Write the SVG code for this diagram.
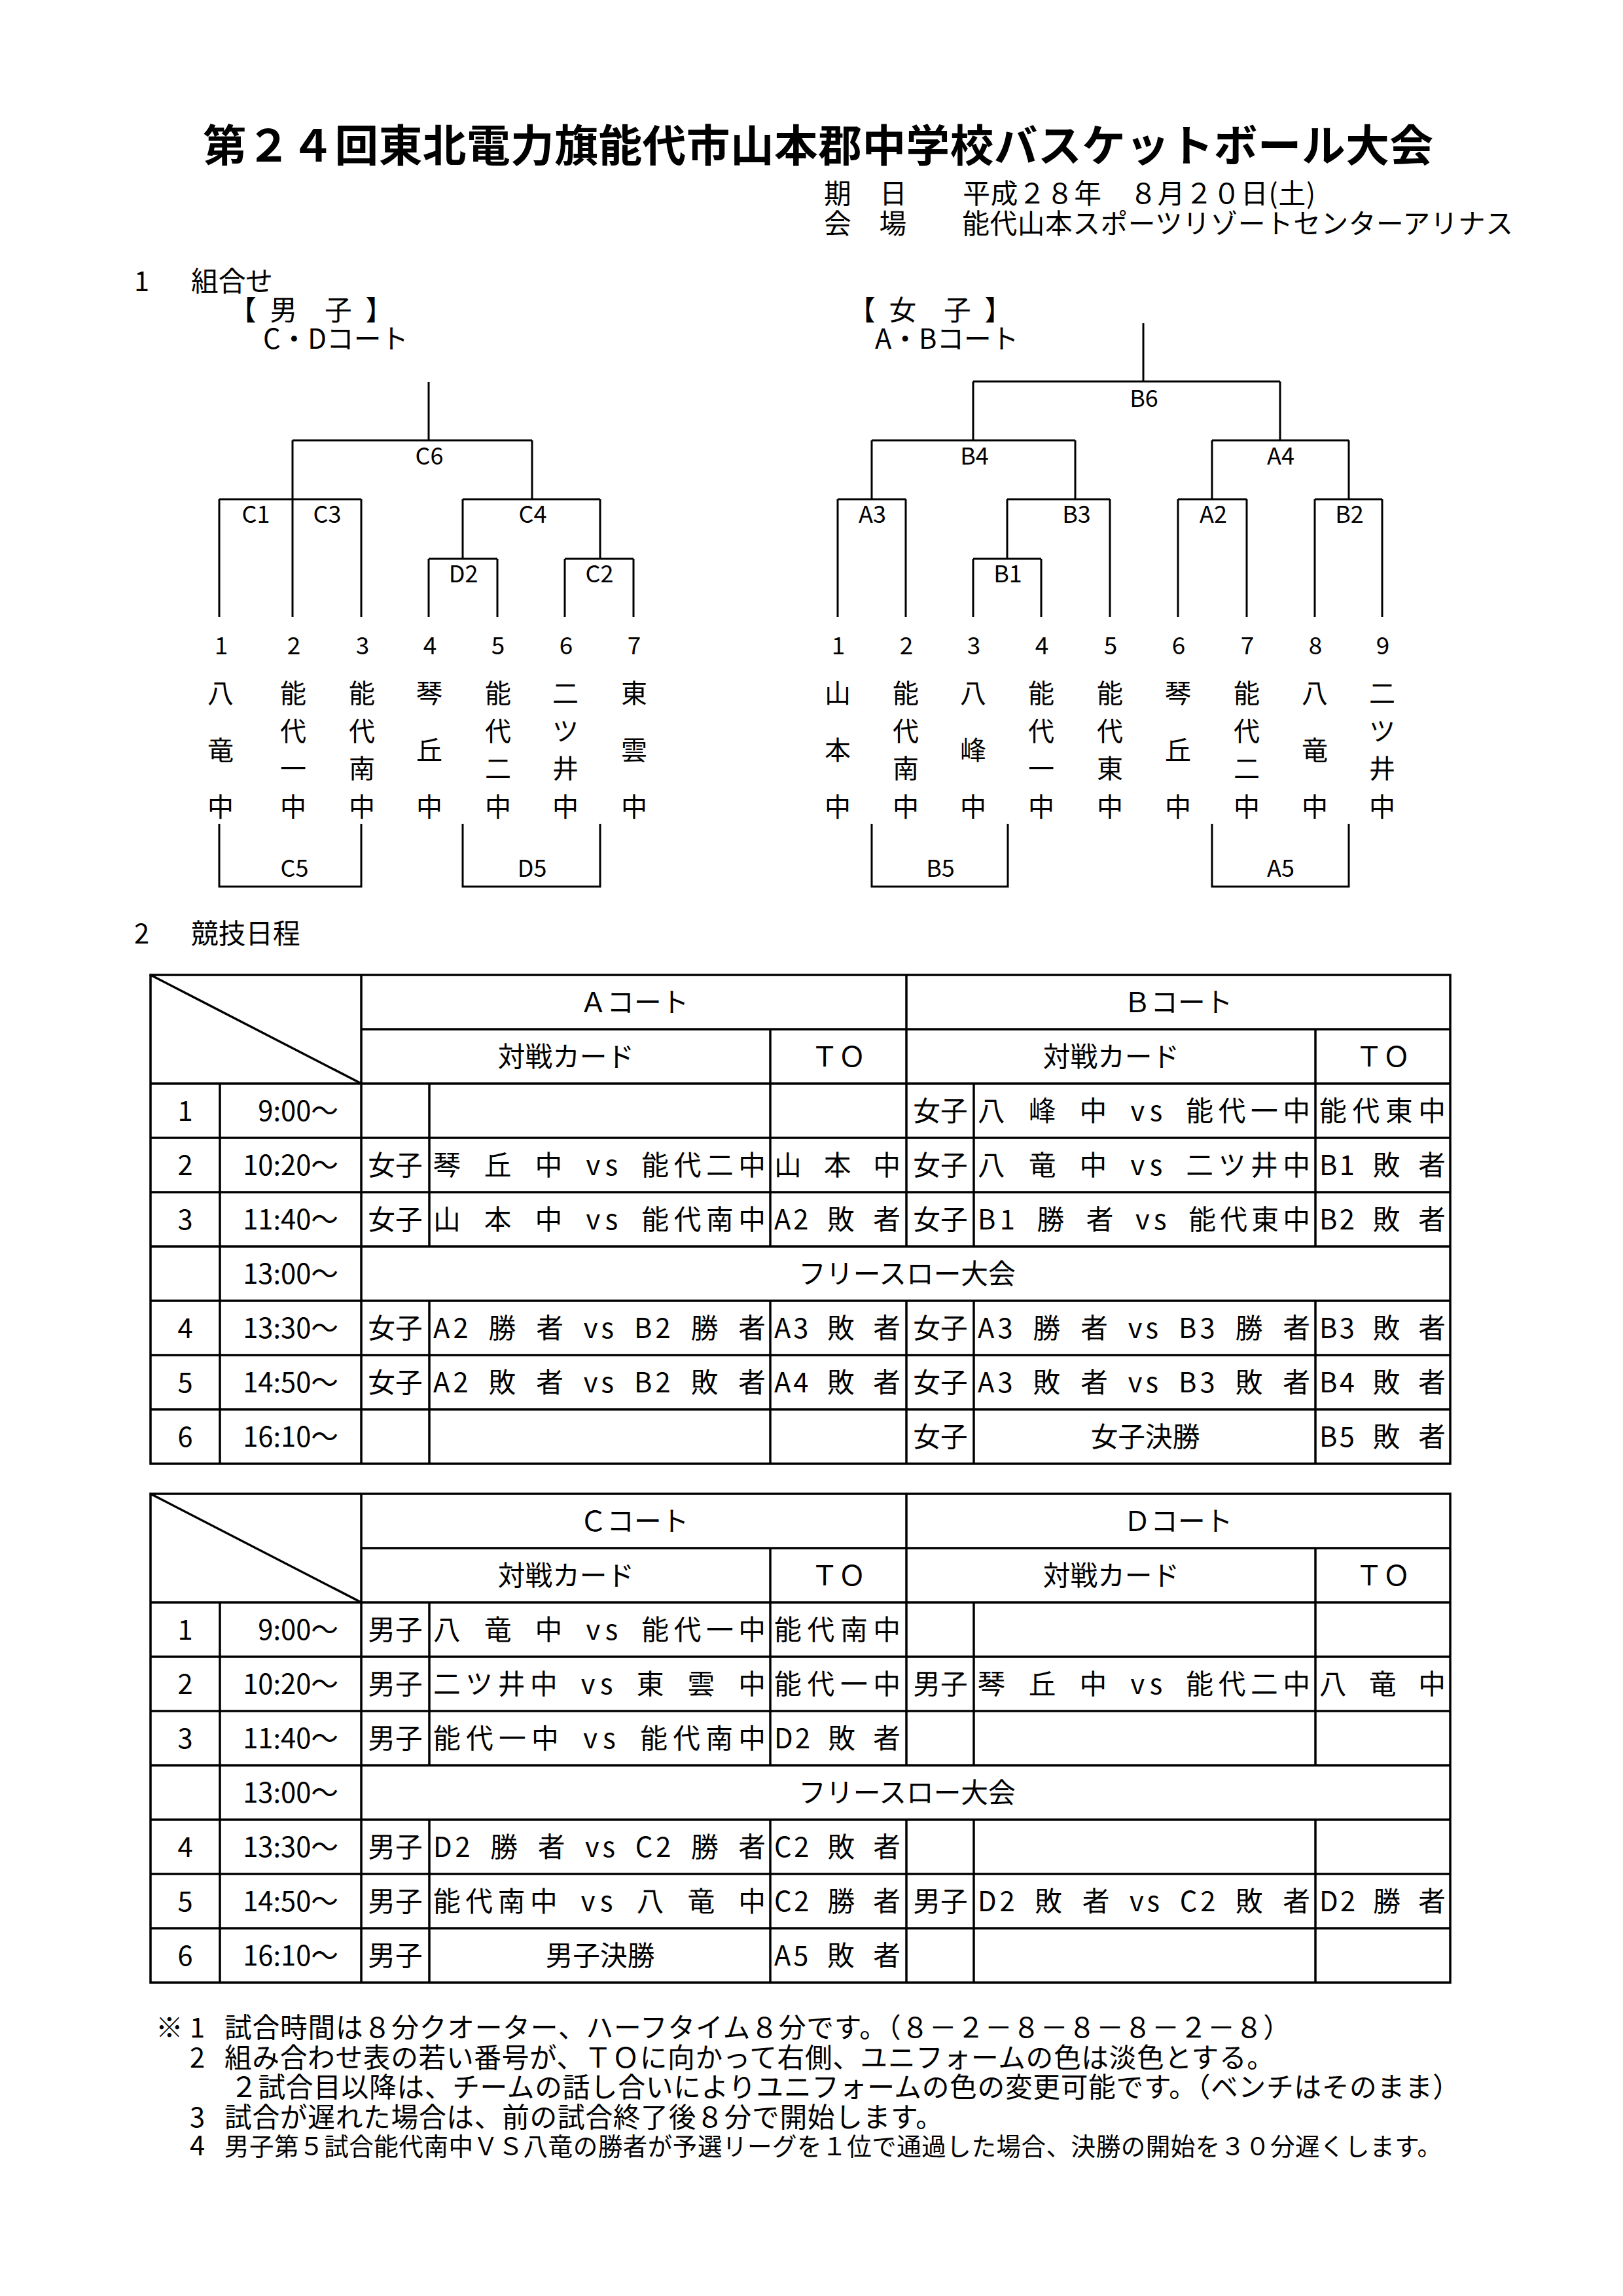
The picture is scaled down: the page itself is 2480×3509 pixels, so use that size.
<svg xmlns="http://www.w3.org/2000/svg" width="2480" height="3509" viewBox="0 0 2480 3509">
<style>
.j{font-family:"Noto Sans CJK JP","Noto Sans",sans-serif;font-size:41.7px;fill:#000}
.nm{font-size:40px}
.c{text-anchor:middle}
.e{text-anchor:end}
.lb{font-size:36px}
.num{font-size:37px}
.tt{font-size:66.7px;font-weight:700}
.n5{font-size:37.5px}
.ln{stroke:#000;stroke-width:3;fill:none}
.tb{stroke:#000;stroke-width:3.5;fill:none;stroke-linecap:square}
</style>
<rect x="0" y="0" width="2480" height="3509" fill="#fff"/>

<g id="title">
<text class="j tt" x="310" y="247" textLength="1880" lengthAdjust="spacing">第２４回東北電力旗能代市山本郡中学校バスケットボール大会</text>
</g>
<g id="meta">
<text class="j" x="1259" y="311" textLength="751" lengthAdjust="spacing">期　日　　平成２８年　８月２０日(土)</text>
<text class="j" x="1259" y="357" textLength="1053" lengthAdjust="spacing">会　場　　能代山本スポーツリゾートセンターアリナス</text>
</g>

<g id="section1">
<text class="j" x="205" y="445">1</text>
<text class="j" x="292" y="445">組合せ</text>
<text class="j" x="350" y="489">【&#x2002;男　子&#x2002;】</text>
<text class="j" x="402" y="533">C・Dコート</text>
<text class="j" x="1296" y="489">【&#x2002;女　子&#x2002;】</text>
<text class="j" x="1337" y="533">A・Bコート</text>
</g>

<g id="connectors">
<path class="ln" d="M655,584V673 M447,673H813 M447,673V943 M813,673V763 M335,763H552 M335,763V943 M552,763V943 M707,763H917 M707,763V854 M917,763V854 M655,854H760 M655,854V943 M760,854V943 M863,854H968 M863,854V943 M968,854V943"/>
<path class="ln" d="M335,1259V1355H552V1259 M707,1259V1355H917V1259"/>
<path class="ln" d="M1747,494V583 M1487,583H1956 M1487,583V673 M1956,583V673 M1332,673H1643 M1332,673V763 M1643,673V763 M1280,763H1384 M1280,763V943 M1384,763V943 M1539,763H1696 M1539,763V854 M1696,763V943 M1487,854H1591 M1487,854V943 M1591,854V943 M1852,673H2061 M1852,673V763 M2061,673V763 M1800,763H1905 M1800,763V943 M1905,763V943 M2009,763H2112 M2009,763V943 M2112,763V943"/>
<path class="ln" d="M1332,1259V1355H1540V1259 M1852,1259V1355H2061V1259"/>
</g>

<g id="boys-matches">
<text class="j lb c" x="656" y="710">C6</text>
<text class="j lb c" x="391" y="799">C1</text>
<text class="j lb c" x="500" y="799">C3</text>
<text class="j lb c" x="814" y="799">C4</text>
<text class="j lb c" x="708" y="890">D2</text>
<text class="j lb c" x="916" y="890">C2</text>
<text class="j lb c" x="450" y="1340">C5</text>
<text class="j lb c" x="813" y="1340">D5</text>
</g>

<g id="boys-teams">
<g id="boy1"><text class="j num c" x="338" y="1000">1</text><text class="j nm c" x="337 337 337" y="1074 1161 1248">八竜中</text></g>
<g id="boy2"><text class="j num c" x="449" y="1000">2</text><text class="j nm c" x="448 448 448 448" y="1074 1132 1189 1248">能代一中</text></g>
<g id="boy3"><text class="j num c" x="554" y="1000">3</text><text class="j nm c" x="553 553 553 553" y="1074 1132 1189 1248">能代南中</text></g>
<g id="boy4"><text class="j num c" x="657" y="1000">4</text><text class="j nm c" x="656 656 656" y="1074 1161 1248">琴丘中</text></g>
<g id="boy5"><text class="j num c" x="761" y="1000">5</text><text class="j nm c" x="761 761 761 761" y="1074 1132 1189 1248">能代二中</text></g>
<g id="boy6"><text class="j num c" x="865" y="1000">6</text><text class="j nm c" x="864 864 864 864" y="1074 1132 1189 1248">二ツ井中</text></g>
<g id="boy7"><text class="j num c" x="969" y="1000">7</text><text class="j nm c" x="969 969 969" y="1074 1161 1248">東雲中</text></g>
</g>

<g id="girls-matches">
<text class="j lb c" x="1748" y="622">B6</text>
<text class="j lb c" x="1489" y="710">B4</text>
<text class="j lb c" x="1957" y="710">A4</text>
<text class="j lb c" x="1333" y="799">A3</text>
<text class="j lb c" x="1645" y="799">B3</text>
<text class="j lb c" x="1854" y="799">A2</text>
<text class="j lb c" x="2062" y="799">B2</text>
<text class="j lb c" x="1540" y="890">B1</text>
<text class="j lb c" x="1437" y="1340">B5</text>
<text class="j lb c" x="1957" y="1340">A5</text>
</g>

<g id="girls-teams">
<g id="girl1"><text class="j num c" x="1281" y="1000">1</text><text class="j nm c" x="1280 1280 1280" y="1074 1161 1248">山本中</text></g>
<g id="girl2"><text class="j num c" x="1385" y="1000">2</text><text class="j nm c" x="1384 1384 1384 1384" y="1074 1132 1189 1248">能代南中</text></g>
<g id="girl3"><text class="j num c" x="1488" y="1000">3</text><text class="j nm c" x="1487 1487 1487" y="1074 1161 1248">八峰中</text></g>
<g id="girl4"><text class="j num c" x="1592" y="1000">4</text><text class="j nm c" x="1591 1591 1591 1591" y="1074 1132 1189 1248">能代一中</text></g>
<g id="girl5"><text class="j num c" x="1697" y="1000">5</text><text class="j nm c" x="1696 1696 1696 1696" y="1074 1132 1189 1248">能代東中</text></g>
<g id="girl6"><text class="j num c" x="1801" y="1000">6</text><text class="j nm c" x="1800 1800 1800" y="1074 1161 1248">琴丘中</text></g>
<g id="girl7"><text class="j num c" x="1906" y="1000">7</text><text class="j nm c" x="1905 1905 1905 1905" y="1074 1132 1189 1248">能代二中</text></g>
<g id="girl8"><text class="j num c" x="2010" y="1000">8</text><text class="j nm c" x="2009 2009 2009" y="1074 1161 1248">八竜中</text></g>
<g id="girl9"><text class="j num c" x="2113" y="1000">9</text><text class="j nm c" x="2112 2112 2112 2112" y="1074 1132 1189 1248">二ツ井中</text></g>
</g>

<g id="section2">
<text class="j" x="205" y="1442">2</text>
<text class="j" x="292" y="1442">競技日程</text>
</g>

<g id="table-ab">
<path class="tb" d="M230,1490H2216V2237H230Z M552,1573H2216 M230,1656H2216 M230,1739H2216 M230,1822H2216 M230,1905H2216 M230,1988H2216 M230,2071H2216 M230,2154H2216 M336,1656V2237 M552,1490V2237 M656,1656V1905 M656,1988V2237 M1177,1573V1905 M1177,1988V2237 M1385,1490V1905 M1385,1988V2237 M1488,1656V1905 M1488,1988V2237 M2010,1573V1905 M2010,1988V2237 M230,1490L552,1656"/>
<text class="j c" x="969" y="1547">Ａコート</text>
<text class="j c" x="1800" y="1547">Ｂコート</text>
<text class="j c" x="865" y="1630">対戦カード</text>
<text class="j c" x="1281" y="1630">ＴＯ</text>
<text class="j c" x="1698" y="1630">対戦カード</text>
<text class="j c" x="2113" y="1630">ＴＯ</text>
<text class="j c" x="283" y="1713">1</text>
<text class="j e" x="517" y="1713">9:00～</text>
<text class="j c" x="1437" y="1713">女子</text>
<text class="j" x="1494" y="1713" textLength="508" lengthAdjust="spacing">八&#x2002;峰&#x2002;中&#x2002;vs&#x2002;能代一中</text>
<text class="j" x="2016" y="1713" textLength="193" lengthAdjust="spacing">能代東中</text>
<text class="j c" x="283" y="1796">2</text>
<text class="j e" x="517" y="1796">10:20～</text>
<text class="j c" x="604" y="1796">女子</text>
<text class="j" x="662" y="1796" textLength="508" lengthAdjust="spacing">琴&#x2002;丘&#x2002;中&#x2002;vs&#x2002;能代二中</text>
<text class="j" x="1183" y="1796" textLength="193" lengthAdjust="spacing">山&#x2002;本&#x2002;中</text>
<text class="j c" x="1437" y="1796">女子</text>
<text class="j" x="1494" y="1796" textLength="508" lengthAdjust="spacing">八&#x2002;竜&#x2002;中&#x2002;vs&#x2002;二ツ井中</text>
<text class="j" x="2016" y="1796" textLength="193" lengthAdjust="spacing">B1&#x2002;敗&#x2002;者</text>
<text class="j c" x="283" y="1879">3</text>
<text class="j e" x="517" y="1879">11:40～</text>
<text class="j c" x="604" y="1879">女子</text>
<text class="j" x="662" y="1879" textLength="508" lengthAdjust="spacing">山&#x2002;本&#x2002;中&#x2002;vs&#x2002;能代南中</text>
<text class="j" x="1183" y="1879" textLength="193" lengthAdjust="spacing">A2&#x2002;敗&#x2002;者</text>
<text class="j c" x="1437" y="1879">女子</text>
<text class="j" x="1494" y="1879" textLength="508" lengthAdjust="spacing">B1&#x2002;勝&#x2002;者&#x2002;vs&#x2002;能代東中</text>
<text class="j" x="2016" y="1879" textLength="193" lengthAdjust="spacing">B2&#x2002;敗&#x2002;者</text>
<text class="j e" x="517" y="1962">13:00～</text>
<text class="j c" x="1386" y="1962">フリースロー大会</text>
<text class="j c" x="283" y="2045">4</text>
<text class="j e" x="517" y="2045">13:30～</text>
<text class="j c" x="604" y="2045">女子</text>
<text class="j" x="662" y="2045" textLength="508" lengthAdjust="spacing">A2&#x2002;勝&#x2002;者&#x2002;vs&#x2002;B2&#x2002;勝&#x2002;者</text>
<text class="j" x="1183" y="2045" textLength="193" lengthAdjust="spacing">A3&#x2002;敗&#x2002;者</text>
<text class="j c" x="1437" y="2045">女子</text>
<text class="j" x="1494" y="2045" textLength="508" lengthAdjust="spacing">A3&#x2002;勝&#x2002;者&#x2002;vs&#x2002;B3&#x2002;勝&#x2002;者</text>
<text class="j" x="2016" y="2045" textLength="193" lengthAdjust="spacing">B3&#x2002;敗&#x2002;者</text>
<text class="j c" x="283" y="2128">5</text>
<text class="j e" x="517" y="2128">14:50～</text>
<text class="j c" x="604" y="2128">女子</text>
<text class="j" x="662" y="2128" textLength="508" lengthAdjust="spacing">A2&#x2002;敗&#x2002;者&#x2002;vs&#x2002;B2&#x2002;敗&#x2002;者</text>
<text class="j" x="1183" y="2128" textLength="193" lengthAdjust="spacing">A4&#x2002;敗&#x2002;者</text>
<text class="j c" x="1437" y="2128">女子</text>
<text class="j" x="1494" y="2128" textLength="508" lengthAdjust="spacing">A3&#x2002;敗&#x2002;者&#x2002;vs&#x2002;B3&#x2002;敗&#x2002;者</text>
<text class="j" x="2016" y="2128" textLength="193" lengthAdjust="spacing">B4&#x2002;敗&#x2002;者</text>
<text class="j c" x="283" y="2211">6</text>
<text class="j e" x="517" y="2211">16:10～</text>
<text class="j c" x="1437" y="2211">女子</text>
<text class="j c" x="1750" y="2211">女子決勝</text>
<text class="j" x="2016" y="2211" textLength="193" lengthAdjust="spacing">B5&#x2002;敗&#x2002;者</text>
</g>

<g id="table-cd" transform="translate(0,793)">
<path class="tb" d="M230,1490H2216V2237H230Z M552,1573H2216 M230,1656H2216 M230,1739H2216 M230,1822H2216 M230,1905H2216 M230,1988H2216 M230,2071H2216 M230,2154H2216 M336,1656V2237 M552,1490V2237 M656,1656V1905 M656,1988V2237 M1177,1573V1905 M1177,1988V2237 M1385,1490V1905 M1385,1988V2237 M1488,1656V1905 M1488,1988V2237 M2010,1573V1905 M2010,1988V2237 M230,1490L552,1656"/>
<text class="j c" x="969" y="1547">Ｃコート</text>
<text class="j c" x="1800" y="1547">Ｄコート</text>
<text class="j c" x="865" y="1630">対戦カード</text>
<text class="j c" x="1281" y="1630">ＴＯ</text>
<text class="j c" x="1698" y="1630">対戦カード</text>
<text class="j c" x="2113" y="1630">ＴＯ</text>
<text class="j c" x="283" y="1713">1</text>
<text class="j e" x="517" y="1713">9:00～</text>
<text class="j c" x="604" y="1713">男子</text>
<text class="j" x="662" y="1713" textLength="508" lengthAdjust="spacing">八&#x2002;竜&#x2002;中&#x2002;vs&#x2002;能代一中</text>
<text class="j" x="1183" y="1713" textLength="193" lengthAdjust="spacing">能代南中</text>
<text class="j c" x="283" y="1796">2</text>
<text class="j e" x="517" y="1796">10:20～</text>
<text class="j c" x="604" y="1796">男子</text>
<text class="j" x="662" y="1796" textLength="508" lengthAdjust="spacing">二ツ井中&#x2002;vs&#x2002;東&#x2002;雲&#x2002;中</text>
<text class="j" x="1183" y="1796" textLength="193" lengthAdjust="spacing">能代一中</text>
<text class="j c" x="1437" y="1796">男子</text>
<text class="j" x="1494" y="1796" textLength="508" lengthAdjust="spacing">琴&#x2002;丘&#x2002;中&#x2002;vs&#x2002;能代二中</text>
<text class="j" x="2016" y="1796" textLength="193" lengthAdjust="spacing">八&#x2002;竜&#x2002;中</text>
<text class="j c" x="283" y="1879">3</text>
<text class="j e" x="517" y="1879">11:40～</text>
<text class="j c" x="604" y="1879">男子</text>
<text class="j" x="662" y="1879" textLength="508" lengthAdjust="spacing">能代一中&#x2002;vs&#x2002;能代南中</text>
<text class="j" x="1183" y="1879" textLength="193" lengthAdjust="spacing">D2&#x2002;敗&#x2002;者</text>
<text class="j e" x="517" y="1962">13:00～</text>
<text class="j c" x="1386" y="1962">フリースロー大会</text>
<text class="j c" x="283" y="2045">4</text>
<text class="j e" x="517" y="2045">13:30～</text>
<text class="j c" x="604" y="2045">男子</text>
<text class="j" x="662" y="2045" textLength="508" lengthAdjust="spacing">D2&#x2002;勝&#x2002;者&#x2002;vs&#x2002;C2&#x2002;勝&#x2002;者</text>
<text class="j" x="1183" y="2045" textLength="193" lengthAdjust="spacing">C2&#x2002;敗&#x2002;者</text>
<text class="j c" x="283" y="2128">5</text>
<text class="j e" x="517" y="2128">14:50～</text>
<text class="j c" x="604" y="2128">男子</text>
<text class="j" x="662" y="2128" textLength="508" lengthAdjust="spacing">能代南中&#x2002;vs&#x2002;八&#x2002;竜&#x2002;中</text>
<text class="j" x="1183" y="2128" textLength="193" lengthAdjust="spacing">C2&#x2002;勝&#x2002;者</text>
<text class="j c" x="1437" y="2128">男子</text>
<text class="j" x="1494" y="2128" textLength="508" lengthAdjust="spacing">D2&#x2002;敗&#x2002;者&#x2002;vs&#x2002;C2&#x2002;敗&#x2002;者</text>
<text class="j" x="2016" y="2128" textLength="193" lengthAdjust="spacing">D2&#x2002;勝&#x2002;者</text>
<text class="j c" x="283" y="2211">6</text>
<text class="j e" x="517" y="2211">16:10～</text>
<text class="j c" x="604" y="2211">男子</text>
<text class="j c" x="917" y="2211">男子決勝</text>
<text class="j" x="1183" y="2211" textLength="193" lengthAdjust="spacing">A5&#x2002;敗&#x2002;者</text>
</g>

<g id="notes">
<text class="j" x="238" y="3114">※</text>
<text class="j" x="290" y="3114">1</text>
<text class="j" x="343" y="3114" textLength="1629" lengthAdjust="spacing">試合時間は８分クオーター、ハーフタイム８分です。（８－２－８－８－８－２－８）</text>
<text class="j" x="290" y="3160">2</text>
<text class="j" x="343" y="3160" textLength="1604" lengthAdjust="spacing">組み合わせ表の若い番号が、ＴＯに向かって右側、ユニフォームの色は淡色とする。</text>
<text class="j" x="352" y="3205" textLength="1879" lengthAdjust="spacing">２試合目以降は、チームの話し合いによりユニフォームの色の変更可能です。（ベンチはそのまま）</text>
<text class="j" x="290" y="3251">3</text>
<text class="j" x="343" y="3251" textLength="1098" lengthAdjust="spacing">試合が遅れた場合は、前の試合終了後８分で開始します。</text>
<text class="j" x="290" y="3294">4</text>
<text class="j n5" x="343" y="3294" textLength="1860" lengthAdjust="spacing">男子第５試合能代南中ＶＳ八竜の勝者が予選リーグを１位で通過した場合、決勝の開始を３０分遅くします。</text>
</g>
</svg>
